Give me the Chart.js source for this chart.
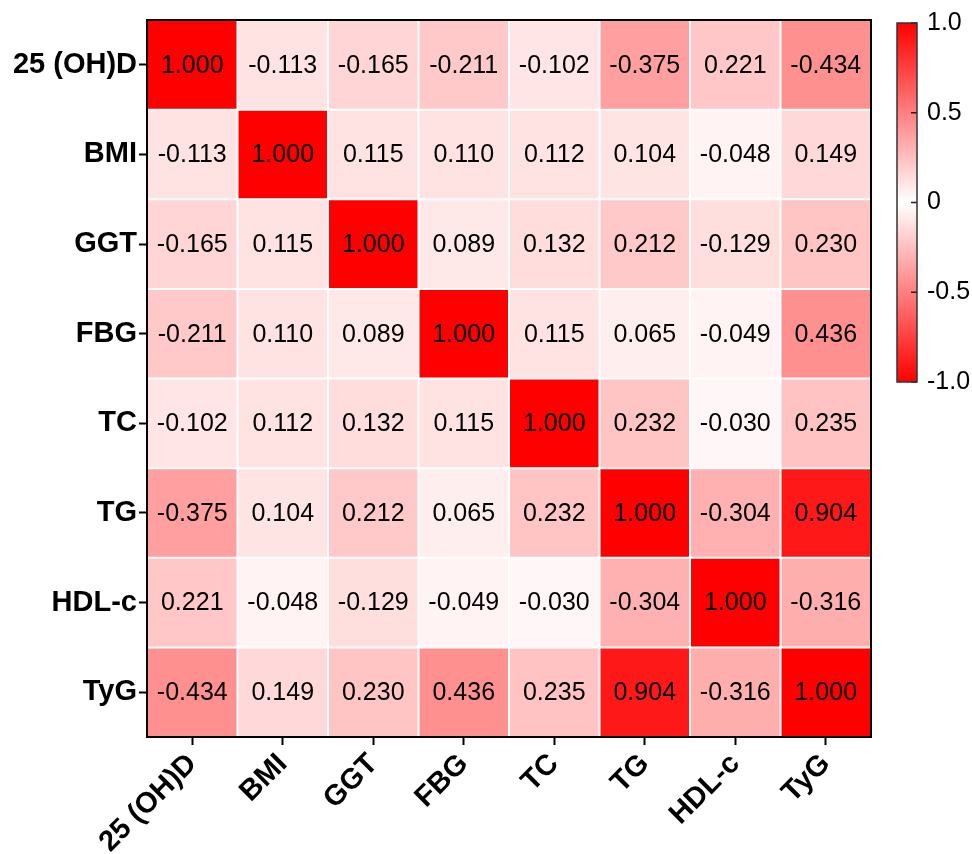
<!DOCTYPE html>
<html><head><meta charset="utf-8">
<script src="https://cdn.jsdelivr.net/npm/chart.js@4"></script>
<style>
html,body{margin:0;padding:0;background:#fff;width:972px;height:854px;overflow:hidden}
#wrap{position:relative;width:972px;height:854px}
#main{position:absolute;left:0;top:0}
#cb{position:absolute;left:860px;top:4px}
</style></head><body>
<div id="wrap"><canvas id="main" width="972" height="854"></canvas><canvas id="cb" width="112" height="420"></canvas></div>
<script>
const categories = ['25 (OH)D','BMI','GGT','FBG','TC','TG','HDL-c','TyG'];
const row25OHD = [1.000, -0.113, -0.165, -0.211, -0.102, -0.375, 0.221, -0.434];
const rowBMI   = [-0.113, 1.000, 0.115, 0.110, 0.112, 0.104, -0.048, 0.149];
const rowGGT   = [-0.165, 0.115, 1.000, 0.089, 0.132, 0.212, -0.129, 0.230];
const rowFBG   = [-0.211, 0.110, 0.089, 1.000, 0.115, 0.065, -0.049, 0.436];
const rowTC    = [-0.102, 0.112, 0.132, 0.115, 1.000, 0.232, -0.030, 0.235];
const rowTG    = [-0.375, 0.104, 0.212, 0.065, 0.232, 1.000, -0.304, 0.904];
const rowHDLc  = [0.221, -0.048, -0.129, -0.049, -0.030, -0.304, 1.000, -0.316];
const rowTyG   = [-0.434, 0.149, 0.230, 0.436, 0.235, 0.904, -0.316, 1.000];
const colorbarTicks = [1, 0.5, 0, -0.5, -1];
const colorbarTickLabels = ['1.0', '0.5', '0', '-0.5', '-1.0'];

const rows = [row25OHD, rowBMI, rowGGT, rowFBG, rowTC, rowTG, rowHDLc, rowTyG];
const FONT = "'Liberation Sans', Arial, sans-serif";

function cellColor(v){
  const t = Math.min(1, Math.abs(v));
  const c = Math.round(255 * (1 - t));
  return `rgb(255,${c},${c})`;
}

const datasets = categories.map((name, j) => ({
  label: name,
  data: rows.map(() => 1),
  backgroundColor: rows.map(r => cellColor(r[j])),
  borderWidth: 0,
  barPercentage: 1,
  categoryPercentage: 1
}));

const heatPlugin = {
  id: 'heat',
  afterDatasetsDraw(chart){
    const {ctx, chartArea: a, scales: {x, y}} = chart;
    ctx.save();
    ctx.strokeStyle = '#ffffff';
    ctx.lineWidth = 2;
    ctx.beginPath();
    for (let j = 1; j < categories.length; j++){
      const px = x.getPixelForValue(j);
      ctx.moveTo(px, a.top); ctx.lineTo(px, a.bottom);
    }
    for (let i = 1; i < categories.length; i++){
      const py = (y.getPixelForValue(i - 1) + y.getPixelForValue(i)) / 2;
      ctx.moveTo(a.left, py); ctx.lineTo(a.right, py);
    }
    ctx.stroke();
    ctx.fillStyle = '#000';
    ctx.font = `25px ${FONT}`;
    ctx.textAlign = 'center';
    ctx.textBaseline = 'middle';
    rows.forEach((r, i) => {
      r.forEach((v, j) => {
        ctx.fillText(v.toFixed(3), x.getPixelForValue(j + 0.5), y.getPixelForValue(i) + 1);
      });
    });
    ctx.strokeStyle = '#000';
    ctx.lineWidth = 2;
    ctx.strokeRect(a.left, a.top, a.right - a.left, a.bottom - a.top);
    ctx.restore();
  }
};

new Chart(document.getElementById('main'), {
  type: 'bar',
  data: { labels: categories, datasets },
  options: {
    indexAxis: 'y',
    responsive: false,
    animation: false,
    layout: { padding: { top: 20, right: 101, left: 0, bottom: 0 } },
    plugins: { legend: { display: false }, tooltip: { enabled: false } },
    scales: {
      x: {
        type: 'linear', stacked: true, min: 0, max: categories.length,
        afterBuildTicks: axis => { axis.ticks = categories.map((c, i) => ({ value: i + 0.5 })); },
        afterFit: s => { s.height = 117; },
        border: { display: false },
        grid: { display: true, drawOnChartArea: false, drawTicks: true, tickLength: 8, tickColor: '#000', tickWidth: 2 },
        ticks: {
          autoSkip: false, minRotation: 45, maxRotation: 45, padding: 2,
          color: '#000', font: { family: FONT, size: 29, weight: 'bold' },
          callback: v => categories[Math.floor(v)]
        }
      },
      y: {
        type: 'category', stacked: true,
        afterFit: s => { s.width = 147; },
        border: { display: false },
        grid: { display: true, offset: false, drawOnChartArea: false, drawTicks: true, tickLength: 8, tickColor: '#000', tickWidth: 2 },
        ticks: { padding: 2, color: '#000', font: { family: FONT, size: 29, weight: 'bold' } }
      }
    }
  },
  plugins: [heatPlugin]
});

const cbTickPlugin = {
  id: 'cbticks',
  afterDatasetsDraw(chart){
    const {ctx, chartArea: a, scales: {y}} = chart;
    ctx.save();
    ctx.strokeStyle = '#222';
    ctx.lineWidth = 1.5;
    ctx.beginPath();
    colorbarTicks.forEach(v => {
      const py = y.getPixelForValue(v);
      ctx.moveTo(a.right - 6, py); ctx.lineTo(a.right, py);
    });
    ctx.stroke();
    ctx.strokeStyle = '#333';
    ctx.lineWidth = 1.5;
    ctx.strokeRect(a.left, a.top, a.right - a.left, a.bottom - a.top);
    ctx.restore();
  }
};

new Chart(document.getElementById('cb'), {
  type: 'bar',
  data: {
    labels: [''],
    datasets: [{
      data: [[-1, 1]],
      borderWidth: 0,
      barPercentage: 1,
      categoryPercentage: 1,
      backgroundColor: (c) => {
        const ch = c.chart; const a = ch.chartArea;
        if (!a) return '#f00';
        const g = ch.ctx.createLinearGradient(0, a.bottom, 0, a.top);
        g.addColorStop(0, '#ff0000');
        g.addColorStop(0.5, '#ffffff');
        g.addColorStop(1, '#ff0000');
        return g;
      }
    }]
  },
  options: {
    responsive: false,
    animation: false,
    layout: { padding: { top: 19, left: 37, right: 0, bottom: 42 } },
    plugins: { legend: { display: false }, tooltip: { enabled: false } },
    scales: {
      x: { display: false },
      y: {
        position: 'right', min: -1, max: 1,
        afterBuildTicks: axis => { axis.ticks = colorbarTicks.map(v => ({ value: v })); },
        afterFit: s => { s.width = 55; },
        border: { display: false },
        grid: { display: false },
        ticks: {
          padding: 2, color: '#000', font: { family: FONT, size: 25 },
          callback: v => colorbarTickLabels[colorbarTicks.indexOf(v)]
        }
      }
    }
  },
  plugins: [cbTickPlugin]
});
</script>
</body></html>
